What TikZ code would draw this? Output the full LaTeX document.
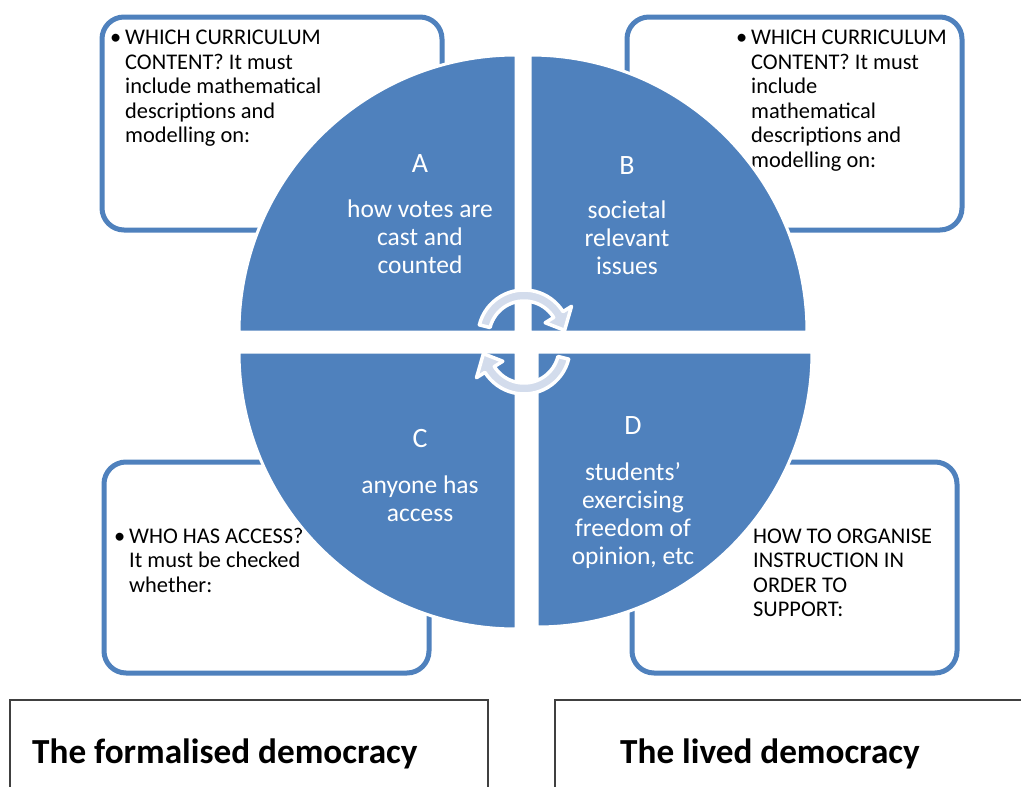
\documentclass[tikz,border=0pt]{standalone}
\usepackage{fontspec}
\setmainfont{Carlito}
\definecolor{qblue}{HTML}{4F81BD}
\definecolor{arrowfill}{HTML}{D3DCEC}
\definecolor{framegray}{HTML}{404040}
\begin{document}
\begin{tikzpicture}[x=1pt,y=-1pt,
  quad/.style={fill=qblue, draw=white, line width=3pt},
  rbox/.style={draw=qblue, line width=5pt, rounded corners=22pt, fill=white, inner sep=0pt, anchor=north west},
  boxtext/.style={anchor=base west, inner sep=0pt, font=\fontsize{22.4}{24.5}\selectfont, text=black},
  quadtext/.style={anchor=base, inner sep=0pt, font=\fontsize{25.5}{28}\selectfont, text=white},
  cyclearrow/.style={fill=arrowfill, draw=white, line width=3.5pt, line join=round},
  titlebox/.style={draw=framegray, line width=1.2pt},
  titletext/.style={anchor=base west, inner sep=0pt, font=\fontsize{35.2}{40}\selectfont\bfseries, text=black}
]
\useasboundingbox[fill=white] (0,0) rectangle (1021,787);

% rounded text boxes
\node[rbox, minimum width=340pt, minimum height=213pt] (boxTL) at (99.5,14.5) {};
\node[rbox, minimum width=335pt, minimum height=213pt] (boxTR) at (624.5,14.5) {};
\node[rbox, minimum width=325pt, minimum height=211pt] (boxBL) at (101.5,459.5) {};
\node[rbox, minimum width=325pt, minimum height=211pt] (boxBR) at (629.5,459.5) {};

\newcommand{\bul}{\leavevmode\llap{\textbullet\hspace{4pt}}}
\newcommand{\qletter}[1]{{\fontsize{28}{28}\selectfont #1}}
\node[boxtext] (txtTL) at (125,45) {\parbox[t]{240pt}{\raggedright\bul WHICH CURRICULUM\\ CONTENT? It must\\ include mathematical\\ descriptions and\\ modelling on:}};
\node[boxtext] (txtTR) at (751,45) {\parbox[t]{240pt}{\raggedright\bul WHICH CURRICULUM\\ CONTENT? It must\\ include\\ mathematical\\ descriptions and\\ modelling on:}};
\node[boxtext] (txtBL) at (129,543) {\parbox[t]{240pt}{\raggedright\bul WHO HAS ACCESS?\\ It must be checked\\ whether:}};
\node[boxtext] (txtBR) at (753,543) {\parbox[t]{240pt}{\raggedright HOW TO ORGANISE\\ INSTRUCTION IN\\ ORDER TO\\ SUPPORT:}};

% quadrants
\path[quad] (516,332) -- ++(-277,0) arc[start angle=180, end angle=270, radius=277] -- cycle;
\path[quad] (530,332) -- ++(0,-277) arc[start angle=270, end angle=360, radius=277] -- cycle;
\path[quad] (516,352) -- ++(0,277) arc[start angle=90, end angle=180, radius=277] -- cycle;
\path[quad] (537,352) -- ++(275,0) arc[start angle=0, end angle=90, radius=275] -- cycle;

\node[quadtext] (qA) at (420,172) {\parbox[t]{220pt}{\centering \qletter{A}\\[17.5pt] how votes are\\ cast and\\ counted}};
\node[quadtext] (qB) at (627,174) {\parbox[t]{220pt}{\centering \qletter{B}\\[16.5pt] societal\\ relevant\\ issues}};
\node[quadtext] (qC) at (420,447) {\parbox[t]{220pt}{\centering \qletter{C}\\[18pt] anyone has\\ access}};
\node[quadtext] (qD) at (633,434) {\parbox[t]{220pt}{\centering \qletter{D}\\[18pt] students'\\ exercising\\ freedom of\\ opinion, etc}};

% cycle arrows
\begin{scope}[shift={(524,336)}, yscale=-1]
\path[cyclearrow] (166:46) arc[start angle=166, end angle=32, radius=46] -- (32:56) -- (8:41) -- (32:25) -- (32:35) arc[start angle=32, end angle=166, radius=35] -- cycle;
\end{scope}
\begin{scope}[shift={(524,348)}, yscale=-1, rotate=180]
\path[cyclearrow] (166:46) arc[start angle=166, end angle=32, radius=46] -- (32:56) -- (8:41) -- (32:25) -- (32:35) arc[start angle=32, end angle=166, radius=35] -- cycle;
\end{scope}

% bottom title boxes
\draw[titlebox] (10,795) -- (10,700) -- (488,700) -- (488,795);
\draw[titlebox] (555,795) -- (555,700) -- (1030,700);
\node[titletext] (titleL) at (32,763) {The formalised democracy};
\node[titletext] (titleR) at (620,763) {The lived democracy};
\end{tikzpicture}
\end{document}
